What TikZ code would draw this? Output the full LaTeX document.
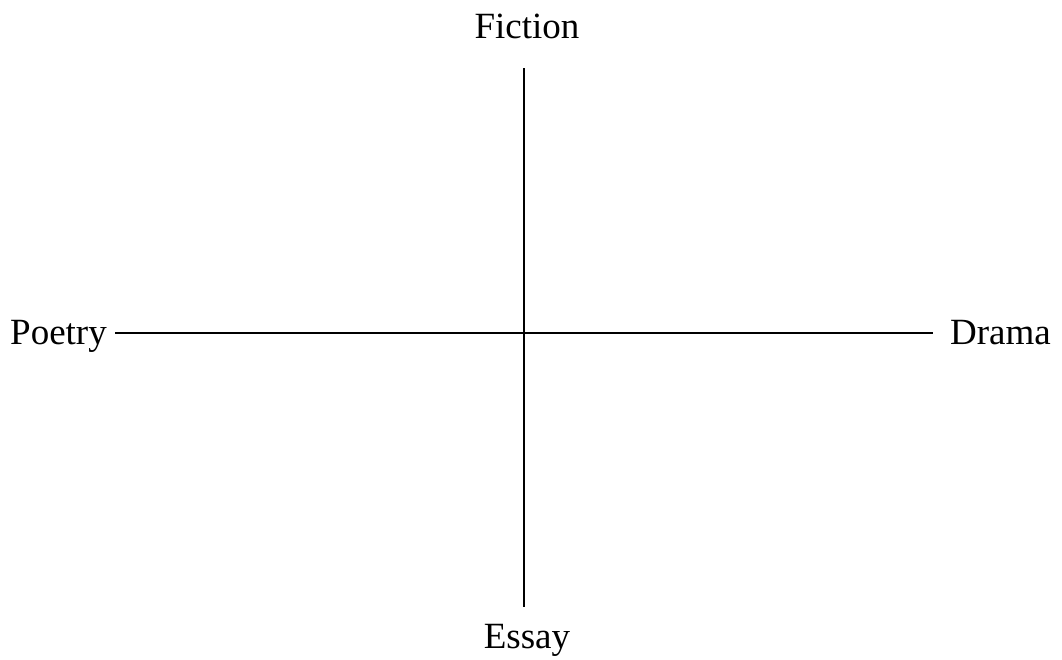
\documentclass[tikz,border=0pt]{standalone}
\usepackage{fontspec}
\setmainfont{Liberation Serif}
\begin{document}
\begin{tikzpicture}[x=1pt,y=-1pt,
  lbl/.style={inner sep=0pt,font=\fontsize{37}{44}\selectfont},
  axis/.style={line width=2pt}]
\useasboundingbox (0,0) rectangle (1062,659);
\node[lbl,anchor=base] (fiction) at (527,38) {Fiction};
\node[lbl,anchor=base] (essay) at (527,648) {Essay};
\node[lbl,anchor=base east] (poetry) at (107,344) {Poetry};
\node[lbl,anchor=base west] (drama) at (950,344) {Drama};
\coordinate (top) at (524,68);
\coordinate (bot) at (524,607);
\coordinate (left) at (115,333);
\coordinate (right) at (933,333);
\draw[axis] (top) -- (bot);
\draw[axis] (left) -- (right);
\end{tikzpicture}
\end{document}
